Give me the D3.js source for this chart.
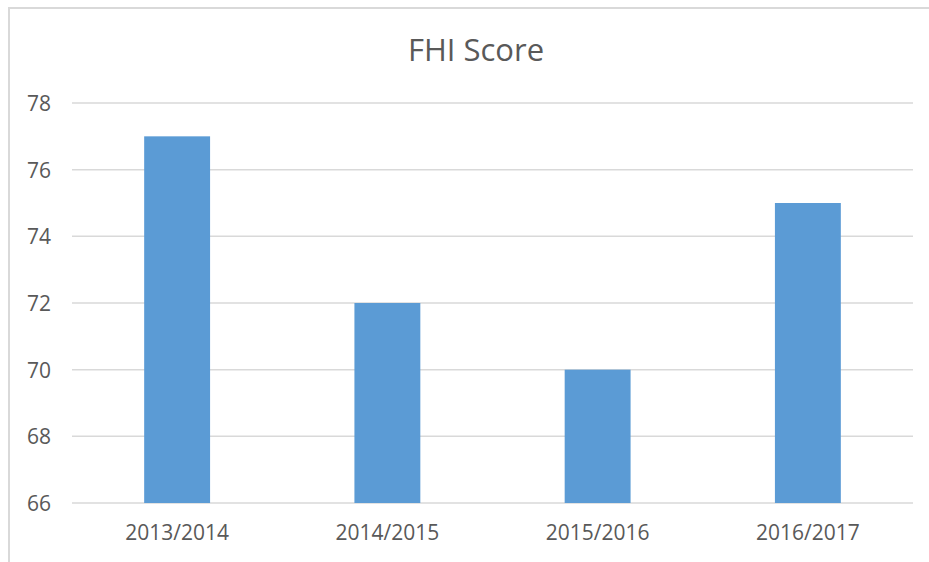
<html>
<head>
<script src="https://d3js.org/d3.v7.min.js"></script>
<style>
  body { margin: 0; background: #fff; }
  text { font-family: "Open Sans", sans-serif; fill: #595959; }
</style>
</head>
<body>
<script>
var categories = ["2013/2014", "2014/2015", "2015/2016", "2016/2017"];
var scores = [77, 72, 70, 75];
var yTicks = [66, 68, 70, 72, 74, 76, 78];
var title = "FHI Score";

var width = 929, height = 562;
var svg = d3.select("body").append("svg").attr("width", width).attr("height", height);

// chart frame (cropped at the right and bottom)
svg.append("rect")
  .attr("x", 9).attr("y", 8)
  .attr("width", 940).attr("height", 580)
  .style("fill", "none").style("stroke", "#d9d9d9").style("stroke-width", 2);

var x = d3.scaleBand().domain(categories).range([72, 913]).padding(0);
var y = d3.scaleLinear().domain([66, 78]).range([503, 103]);

// gridlines
svg.selectAll("line.grid").data(yTicks).enter().append("line")
  .attr("class", "grid")
  .attr("x1", 72).attr("x2", 913)
  .attr("y1", function(d){ return y(d); })
  .attr("y2", function(d){ return y(d); })
  .style("stroke", "#d9d9d9").style("stroke-width", 1.5);

// y labels
var yAxis = d3.axisLeft(y).tickValues(yTicks).tickSize(0).tickPadding(0);
var gy = svg.append("g").attr("transform", "translate(51,0)").call(yAxis);
gy.select(".domain").remove();
gy.selectAll("text").style("font-size", "21px").style("fill", "#595959").attr("dy", "0.35em");

// bars (gap width ~219%)
var barW = x.bandwidth() / 3.19;
svg.selectAll("rect.bar").data(scores).enter().append("rect")
  .attr("class", "bar")
  .attr("x", function(d, i){ return x(categories[i]) + x.bandwidth() / 2 - barW / 2; })
  .attr("y", function(d){ return y(d); })
  .attr("width", barW)
  .attr("height", function(d){ return y(66) - y(d); })
  .style("fill", "#5b9bd5");

// x labels
var xAxis = d3.axisBottom(x).tickSize(0).tickPadding(0);
var gx = svg.append("g").attr("transform", "translate(0,533)").call(xAxis);
gx.select(".domain").remove();
gx.selectAll("text").style("font-size", "21px").style("fill", "#595959").attr("dy", "0.35em");

// title
svg.append("text")
  .attr("x", 476).attr("y", 50)
  .attr("text-anchor", "middle").attr("dy", "0.35em")
  .style("font-size", "31px")
  .text(title);
</script>
</body>
</html>
